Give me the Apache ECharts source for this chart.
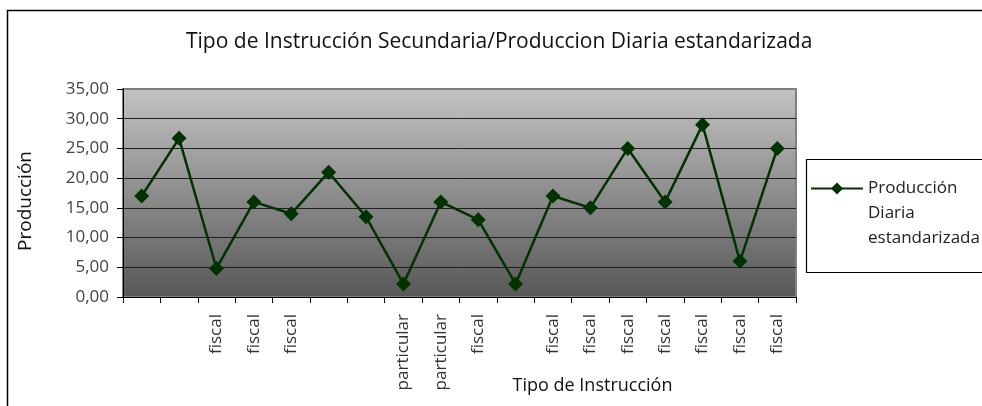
<!DOCTYPE html>
<html>
<head>
<meta charset="utf-8">
<title>Tipo de Instrucción Secundaria</title>
<script src="https://cdn.jsdelivr.net/npm/echarts@6/dist/echarts.min.js"></script>
<style>
  html, body { margin: 0; padding: 0; background: #fff; }
  #chart { width: 982px; height: 406px; }
</style>
</head>
<body>
<div id="chart"></div>
<script>
// categories (blank ones have no label in the original sheet)
const categories = [
  "", "", "fiscal", "fiscal", "fiscal", "", "", "particular", "particular",
  "fiscal", "", "fiscal", "fiscal", "fiscal", "fiscal", "fiscal", "fiscal", "fiscal"
];
const produccion = [
  17.0, 26.7, 4.8, 16.0, 14.0, 21.0, 13.5, 2.2, 16.0,
  13.0, 2.2, 17.0, 15.0, 25.0, 16.0, 29.0, 6.0, 25.0
];
const seriesName = "Producción Diaria estandarizada";
const yTicks = [0, 5, 10, 15, 20, 25, 30, 35];

const font = "'Open Sans', 'DejaVu Sans', sans-serif";
const chart = echarts.init(document.getElementById("chart"));

chart.setOption({
  animation: false,
  textStyle: { fontFamily: font },
  title: {
    text: "Tipo de Instrucción Secundaria/Produccion Diaria estandarizada",
    left: 181,
    top: 27,
    textStyle: { fontSize: 21, fontWeight: "normal", color: "#111", fontFamily: font },
  },
  graphic: [
    {
      type: "polyline",
      shape: { points: [[7.5, 410], [7.5, 10.5], [990, 10.5]] },
      style: { stroke: "#000", lineWidth: 1.5, fill: null },
      z: 100,
    },
    {
      type: "rect",
      shape: { x: 806.5, y: 159.5, width: 200, height: 113 },
      style: { stroke: "#000", lineWidth: 1.2, fill: "#fff" },
      z: 0,
    },
  ],
  legend: {
    left: 810,
    top: 126,
    padding: 0,
    itemWidth: 52,
    itemHeight: 15,
    data: [seriesName],
    // two blank lines on top so the marker sits beside the first line of text
    formatter: () => "\n\nProducción\nDiaria\nestandarizada",
    textStyle: {
      fontSize: 17,
      lineHeight: 25,
      color: "#222",
    },
  },
  grid: {
    left: 123,
    right: 186,
    top: 89,
    bottom: 109,
    outerBoundsMode: "none",
    show: true,
    borderColor: "#808080",
    borderWidth: 2,
    backgroundColor: new echarts.graphic.LinearGradient(0, 0, 0, 1, [
      { offset: 0, color: "#c3c3c3" },
      { offset: 1, color: "#575757" },
    ]),
  },
  xAxis: {
    type: "category",
    data: categories,
    boundaryGap: true,
    name: "Tipo de Instrucción",
    nameLocation: "middle",
    nameGap: 80,
    nameMoveOverlap: false,
    nameTextStyle: { fontSize: 18, color: "#111", padding: [0, 0, 0, 266] },
    axisLine: { lineStyle: { color: "#000", width: 1 } },
    axisTick: { show: true, interval: 0, length: 6, lineStyle: { color: "#000" } },
    axisLabel: {
      interval: 0,
      rotate: 90,
      margin: 17,
      fontSize: 17,
      color: "#333",
    },
  },
  yAxis: {
    type: "value",
    min: 0,
    max: 35,
    interval: 5,
    name: "Producción",
    nameLocation: "middle",
    nameGap: 88,
    nameTextStyle: { fontSize: 19, color: "#111", padding: [0, 16, 0, 0] },
    axisLine: { show: true, lineStyle: { color: "#000", width: 1 } },
    axisTick: { show: true, length: 6, lineStyle: { color: "#000" } },
    axisLabel: {
      fontSize: 17,
      color: "#444",
      margin: 14,
      formatter: (v) => v.toFixed(2).replace(".", ","),
    },
    splitLine: {
      lineStyle: {
        color: yTicks.map((t) => (t === 35 ? "#808080" : "#1e1e1e")),
        width: 1,
      },
    },
  },
  series: [
    {
      name: seriesName,
      type: "line",
      data: produccion,
      symbol: "diamond",
      symbolSize: 15,
      lineStyle: { color: "#003300", width: 2.5 },
      itemStyle: { color: "#003300" },
    },
  ],
});

window.addEventListener("resize", () => chart.resize());
</script>
</body>
</html>
